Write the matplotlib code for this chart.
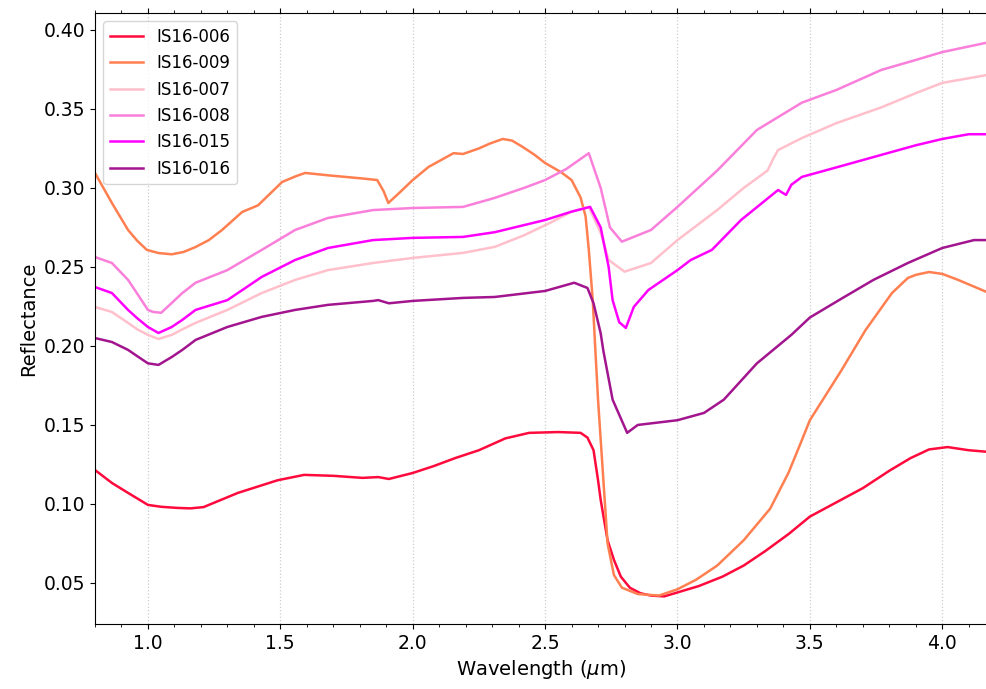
import matplotlib
matplotlib.use('Agg')
from matplotlib import pyplot as plt
from matplotlib.ticker import MultipleLocator

# values (wavelength in um, reflectance)
wl_006 = [0.80, 0.864, 0.925, 1.00, 1.05, 1.11, 1.16, 1.21, 1.34, 1.49, 1.59, 1.70, 1.81, 1.87, 1.91, 2.00,
          2.08, 2.16, 2.25, 2.35, 2.44, 2.55, 2.634, 2.66, 2.683, 2.70, 2.71, 2.736, 2.76, 2.786, 2.82, 2.86,
          2.90, 2.95, 3.00, 3.08, 3.17, 3.25, 3.33, 3.42, 3.50, 3.60, 3.70, 3.80, 3.88, 3.95, 4.02, 4.10, 4.17]
r_006 = [0.1215, 0.1133, 0.107, 0.0994, 0.0982, 0.0975, 0.0972, 0.098, 0.107, 0.115, 0.1184, 0.1178, 0.1165,
         0.117, 0.1158, 0.1196, 0.124, 0.129, 0.134, 0.1415, 0.145, 0.1455, 0.145, 0.142, 0.134, 0.115, 0.1025,
         0.077, 0.0646, 0.054, 0.047, 0.0435, 0.042, 0.0415, 0.044, 0.048, 0.054, 0.061, 0.070, 0.081, 0.092,
         0.101, 0.110, 0.121, 0.129, 0.1345, 0.136, 0.134, 0.133]

wl_009 = [0.80, 0.864, 0.925, 0.96, 0.996, 1.04, 1.09, 1.135, 1.18, 1.23, 1.28, 1.356, 1.416, 1.507, 1.56,
          1.594, 1.68, 1.81, 1.866, 1.89, 1.908, 1.95, 2.00, 2.06, 2.154, 2.19, 2.25, 2.29, 2.34, 2.375, 2.415,
          2.46, 2.50, 2.56, 2.60, 2.634, 2.653, 2.665, 2.68, 2.69, 2.70, 2.736, 2.76, 2.79, 2.85, 2.93, 3.00,
          3.07, 3.15, 3.25, 3.35, 3.42, 3.47, 3.50, 3.62, 3.71, 3.81, 3.87, 3.90, 3.95, 4.00, 4.06, 4.17]
r_009 = [0.3095, 0.2905, 0.2734, 0.2665, 0.2608, 0.2588, 0.258, 0.2595, 0.2626, 0.267, 0.2734, 0.2848, 0.289,
         0.3038, 0.3075, 0.3095, 0.308, 0.306, 0.305, 0.298, 0.2905, 0.297, 0.305, 0.3133, 0.322, 0.3215, 0.325,
         0.328, 0.331, 0.330, 0.326, 0.321, 0.3158, 0.310, 0.305, 0.294, 0.282, 0.261, 0.229, 0.197, 0.166,
         0.075, 0.055, 0.047, 0.043, 0.042, 0.046, 0.052, 0.061, 0.077, 0.097, 0.120, 0.1405, 0.153, 0.1848,
         0.210, 0.2335, 0.243, 0.245, 0.2468, 0.2456, 0.2418, 0.234]

wl_007 = [0.80, 0.864, 0.925, 0.96, 1.00, 1.04, 1.09, 1.13, 1.18, 1.30, 1.43, 1.556, 1.68, 1.85, 2.00, 2.19,
          2.31, 2.42, 2.52, 2.60, 2.665, 2.71, 2.74, 2.80, 2.90, 3.00, 3.15, 3.25, 3.34, 3.36, 3.38, 3.47,
          3.60, 3.77, 3.90, 4.00, 4.17]
r_007 = [0.2247, 0.2215, 0.2146, 0.2105, 0.207, 0.2044, 0.207, 0.2105, 0.2146, 0.2228, 0.2335, 0.2418, 0.248,
         0.2525, 0.2557, 0.2589, 0.2627, 0.270, 0.278, 0.285, 0.288, 0.2715, 0.2544, 0.247, 0.2525, 0.267,
         0.286, 0.300, 0.311, 0.318, 0.324, 0.3316, 0.341, 0.351, 0.360, 0.3665, 0.3715]

wl_008 = [0.80, 0.864, 0.925, 0.96, 1.00, 1.02, 1.05, 1.09, 1.13, 1.18, 1.30, 1.43, 1.556, 1.68, 1.85, 2.00,
          2.19, 2.31, 2.42, 2.50, 2.58, 2.665, 2.71, 2.745, 2.79, 2.90, 3.00, 3.15, 3.30, 3.47, 3.60, 3.77,
          3.90, 4.00, 4.17]
r_008 = [0.2563, 0.2525, 0.2418, 0.233, 0.2228, 0.2215, 0.221, 0.2272, 0.2335, 0.240, 0.248, 0.2608, 0.2734,
         0.281, 0.286, 0.2873, 0.288, 0.2937, 0.300, 0.305, 0.312, 0.322, 0.300, 0.275, 0.266, 0.2734, 0.288,
         0.311, 0.3367, 0.354, 0.362, 0.3747, 0.381, 0.386, 0.392]

wl_015 = [0.80, 0.864, 0.925, 0.96, 1.00, 1.04, 1.09, 1.13, 1.18, 1.30, 1.43, 1.556, 1.68, 1.85, 2.00, 2.19,
          2.31, 2.50, 2.60, 2.67, 2.71, 2.74, 2.755, 2.78, 2.805, 2.835, 2.89, 3.00, 3.05, 3.13, 3.24, 3.38,
          3.41, 3.43, 3.47, 3.60, 3.75, 3.90, 4.00, 4.10, 4.17]
r_015 = [0.2373, 0.2335, 0.2228, 0.2175, 0.212, 0.2082, 0.212, 0.2165, 0.2228, 0.229, 0.2437, 0.2544, 0.262,
         0.267, 0.2684, 0.269, 0.272, 0.2797, 0.285, 0.288, 0.275, 0.250, 0.229, 0.215, 0.2114, 0.2247, 0.2354,
         0.248, 0.2544, 0.2608, 0.2797, 0.2987, 0.2956, 0.302, 0.307, 0.313, 0.320, 0.327, 0.331, 0.334, 0.334]

wl_016 = [0.80, 0.864, 0.925, 0.96, 1.00, 1.04, 1.09, 1.13, 1.18, 1.30, 1.43, 1.556, 1.68, 1.85, 1.87, 1.91,
          2.00, 2.19, 2.31, 2.50, 2.61, 2.66, 2.683, 2.71, 2.72, 2.755, 2.81, 2.85, 3.00, 3.10, 3.175, 3.30,
          3.43, 3.50, 3.62, 3.74, 3.87, 4.00, 4.12, 4.17]
r_016 = [0.205, 0.2025, 0.1975, 0.1935, 0.189, 0.188, 0.193, 0.1975, 0.2038, 0.212, 0.2184, 0.2228, 0.226,
         0.2285, 0.229, 0.227, 0.2285, 0.2304, 0.231, 0.2348, 0.240, 0.2367, 0.227, 0.208, 0.197, 0.166, 0.145,
         0.150, 0.153, 0.1576, 0.166, 0.189, 0.207, 0.218, 0.230, 0.2418, 0.2525, 0.262, 0.267, 0.267]

samples = ['IS16-006', 'IS16-009', 'IS16-007', 'IS16-008', 'IS16-015', 'IS16-016']
colors = ['#ff0a3c', '#ff7f50', '#ffc0cb', '#f97fdb', '#ff00ff', '#a3158f']
spectra = [(wl_006, r_006), (wl_009, r_009), (wl_007, r_007),
           (wl_008, r_008), (wl_015, r_015), (wl_016, r_016)]

fig = plt.figure(figsize=(9.86, 6.89), dpi=100)
ax = fig.add_axes([0.0963, 0.0943, 0.905, 0.887])

for name, c, (x, y) in zip(samples, colors, spectra):
    ax.plot(x, y, color=c, lw=1.8, label=name)

ax.set_xlim(0.8, 4.17)
ax.set_ylim(0.024, 0.4108)
ax.xaxis.set_major_locator(MultipleLocator(0.5))
ax.xaxis.set_minor_locator(MultipleLocator(0.1))
ax.yaxis.set_major_locator(MultipleLocator(0.05))
ax.tick_params(axis='x', which='both', top=True)
ax.tick_params(labelsize=13.5)
ax.grid(axis='x', which='major', color='#cccccc', linestyle=':', lw=0.9)
ax.spines['right'].set_visible(False)

ax.set_xlabel(r'Wavelength ($\mu$m)', fontsize=14)
ax.set_ylabel('Reflectance', fontsize=14)
ax.legend(loc='upper left', fontsize=12)

fig.savefig('out.png', dpi=100)
